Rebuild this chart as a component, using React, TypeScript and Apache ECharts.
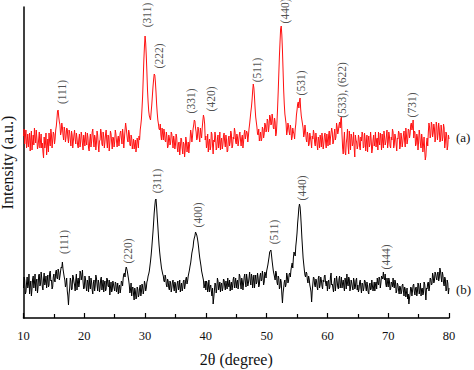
import React, { useEffect, useRef } from "react";
import * as echarts from "echarts";

// 2θ sampling grid: 10.0° to 80.0° in steps of 0.1°
const thetaStart = 10;
const thetaStep = 0.1;

// Pattern (a) — red: readings at 10.0, 10.2, ... 80.0 (one row per 5°)
const intensityA_even = [
  182,174,188,176,171,185,179,168,183,190,175,180,172,186,177,170,166,181,174,163,179,185,172,183,178,
  184,179,192,207,201,193,186,191,178,187,181,189,175,185,172,183,177,188,174,180,170,184,176,182,168,
  179,186,173,181,167,184,176,189,171,180,175,183,166,178,185,172,181,176,188,170,182,175,184,169,180,
  176,184,171,182,178,187,174,183,179,195,184,176,185,172,180,174,169,178,171,176,182,188,199,222,258,
  282,262,228,207,200,206,222,238,243,226,205,194,188,183,190,178,185,176,181,172,180,175,184,170,178,
  173,181,166,176,170,179,164,174,168,177,171,165,178,184,181,193,197,186,180,188,176,184,190,203,194,
  182,174,166,179,171,184,164,176,181,170,183,175,168,180,173,185,171,178,167,182,176,184,172,179,186,
  174,181,177,186,172,183,176,188,179,185,182,194,206,218,234,221,201,191,183,177,186,179,189,184,193,
  188,197,192,201,194,199,189,196,185,210,244,276,292,268,228,204,194,187,192,183,189,181,186,179,194,
  208,216,217,209,198,190,184,188,176,183,174,181,170,179,184,172,180,168,177,183,171,179,174,185,170,
  178,183,173,180,186,176,189,181,191,187,196,199,183,164,186,163,180,172,187,168,181,175,170,183,176,
  172,180,168,177,184,171,179,175,166,182,174,178,169,183,176,171,180,186,173,179,184,170,181,176,188,
  175,182,170,178,186,173,181,167,179,185,172,180,176,187,171,183,178,188,184,195,191,180,186,174,181,
  176,183,170,179,173,168,162,180,186,191,183,193,185,190,180,192,184,189,178,187,181,190,176,184,172,
  179,
];
// Pattern (a) — red: readings at 10.1, 10.3, ... 79.9
const intensityA_odd = [
  189,181,170,184,178,167,187,176,173,181,188,169,179,170,184,175,160,170,185,171,166,176,189,170,186,
  174,188,199,208,196,183,195,183,191,176,190,180,188,178,187,170,183,179,185,173,179,171,186,174,183,
  172,177,185,170,178,171,186,178,183,168,187,173,177,189,174,186,170,184,177,183,167,187,176,181,171,
  188,177,179,172,185,180,189,170,188,190,178,188,173,183,169,179,174,166,180,170,178,193,210,240,272,
  275,246,216,202,198,213,231,244,236,214,198,189,194,178,184,189,177,186,170,183,173,186,177,182,169,
  184,170,175,163,180,170,176,161,181,166,176,172,188,176,189,198,190,178,191,181,190,180,197,200,178,
  170,184,176,168,186,173,178,186,168,179,170,186,176,169,182,176,183,166,179,172,187,170,181,190,176,
  184,172,183,178,180,170,184,179,187,176,189,200,211,227,230,210,196,184,189,181,177,191,180,195,186,
  199,186,203,193,204,190,200,182,196,226,262,289,283,248,214,199,183,195,186,193,178,190,184,189,203,
  214,210,220,202,194,181,193,179,186,172,185,176,182,188,175,185,173,181,170,178,185,169,182,176,184,
  172,187,180,190,174,183,178,195,184,193,190,201,170,177,166,175,189,164,179,184,172,186,161,178,169,
  183,171,181,186,170,185,167,183,177,171,186,165,178,172,186,179,168,177,185,168,176,187,173,182,170,
  186,172,181,189,170,184,174,180,187,169,185,171,183,177,190,174,189,180,193,188,198,187,172,184,168,
  188,174,184,166,181,158,175,172,195,180,196,181,194,176,196,178,195,176,193,177,194,170,186,168,183,
];

// Pattern (b) — black: readings at 10.0, 10.2, ... 80.0
const intensityB_even = [
  30,38,26,41,33,24,37,29,42,35,27,39,31,44,34,40,28,45,36,30,43,33,47,38,31,
  44,36,48,39,46,42,51,56,45,38,34,27,13,30,37,29,41,33,38,28,40,35,45,42,36,
  30,39,27,35,42,29,36,24,38,32,40,27,35,30,41,33,26,37,29,39,31,23,36,28,34,
  27,35,30,24,33,29,36,40,45,48,49,42,33,28,22,31,18,27,20,29,23,33,26,31,28,
  34,30,38,44,52,63,78,95,112,119,101,82,66,55,47,42,36,40,31,37,28,35,30,38,27,
  34,29,37,31,26,35,30,38,33,41,37,45,52,60,68,77,82,86,80,71,60,52,44,38,33,
  28,35,30,26,33,22,14,27,34,29,37,31,26,35,30,38,28,33,40,31,27,36,32,41,35,
  30,38,33,42,29,37,34,44,31,39,35,46,33,41,37,30,43,36,40,33,45,38,42,36,44,
  47,53,61,67,63,52,44,38,45,33,40,31,36,15,30,38,34,42,37,45,48,55,60,64,72,
  85,102,114,103,80,60,48,41,45,35,39,30,16,34,40,31,37,28,42,33,38,29,36,43,32,
  27,38,31,45,34,26,40,33,37,29,42,35,30,38,27,36,44,32,39,30,35,28,37,31,40,
  33,29,38,25,34,30,37,27,32,24,35,29,38,31,27,36,40,33,39,35,42,46,38,34,40,
  31,37,29,35,40,30,36,27,33,24,31,26,34,22,29,25,19,14,24,30,27,34,23,31,26,
  33,28,22,30,25,34,18,29,36,31,39,34,42,37,44,38,46,40,47,36,43,32,39,28,35,
  30,
];
// Pattern (b) — black: readings at 10.1, 10.3, ... 79.9
const intensityB_odd = [
  41,24,35,30,44,31,22,39,30,44,36,25,43,32,46,31,39,33,42,37,31,45,37,29,41,
  37,46,40,49,38,47,50,49,41,31,40,22,24,40,28,43,36,27,44,37,31,47,38,48,29,
  42,31,38,26,33,40,28,35,27,43,33,38,26,39,28,38,34,27,40,32,38,30,26,37,30,
  36,26,35,31,25,37,32,44,41,51,46,38,25,35,30,24,30,19,31,21,30,22,34,24,37,
  27,36,42,47,57,70,86,105,118,111,92,73,60,50,44,37,43,33,39,30,37,26,36,31,36,
  25,35,28,38,31,27,37,29,39,34,42,48,55,65,71,80,86,83,76,65,56,47,41,30,37,
  37,26,38,31,27,30,20,35,25,40,28,36,33,27,39,32,37,29,34,38,33,28,39,30,40,
  36,29,44,34,40,28,41,36,44,32,40,37,44,30,43,38,34,45,31,42,37,47,33,46,40,
  50,57,66,68,57,47,41,47,36,42,29,39,24,25,36,31,45,35,44,41,52,50,66,62,78,
  95,110,111,92,70,54,43,46,38,42,33,26,27,41,33,39,31,40,30,41,32,38,42,35,37,
  36,29,41,33,30,36,27,42,31,39,30,41,35,31,40,29,35,41,27,38,31,40,29,38,28,
  26,36,30,35,27,38,31,36,26,33,28,38,27,36,33,29,35,41,30,42,39,40,44,31,35,
  40,28,36,31,33,38,25,35,28,32,24,33,27,31,21,30,24,20,31,22,33,26,30,22,35,
  24,35,29,23,36,27,30,35,27,40,33,45,35,46,40,45,37,50,41,46,35,41,27,38,24,
];

// Miller-index annotations: [2θ, intensity, label]
const labelsA: [number, number, string][] = [
  [16.28, 226, "(111)"],
  [30.26, 303, "(311)"],
  [32.33, 262, "(222)"],
  [37.55, 217, "(331)"],
  [40.84, 219, "(420)"],
  [48.36, 248, "(511)"],
  [53.01, 307, "(440)"],
  [55.59, 235, "(531)"],
  [62.33, 228, "(533), (622)"],
  [73.95, 213, "(731)"],
];
const labelsB: [number, number, string][] = [
  [16.71, 76, "(111)"],
  [27.24, 67, "(220)"],
  [31.91, 137, "(311)"],
  [38.7, 103, "(400)"],
  [51.2, 86, "(511)"],
  [55.76, 130, "(440)"],
  [69.57, 61, "(444)"],
];

const xTicks = { min: 10, max: 80, interval: 10 };
const SERIF = "Liberation Serif, Times New Roman, serif";

function merge(even: number[], odd: number[]) {
  const out: number[][] = [];
  even.forEach((v, i) => {
    out.push([+(thetaStart + 2 * i * thetaStep).toFixed(1), v]);
    if (i < odd.length) out.push([+(thetaStart + (2 * i + 1) * thetaStep).toFixed(1), odd[i]]);
  });
  return out;
}

export default function App() {
  const ref = useRef<HTMLDivElement>(null);
  useEffect(() => {
    document.body.style.margin = "0";
    const chart = echarts.init(ref.current!, null, { renderer: "svg" });
    const labelSeries = (items: [number, number, string][], name: string) => ({
      type: "scatter",
      name,
      symbolSize: 0,
      silent: true,
      clip: false,
      data: items.map(([x, y, t]) => ({ value: [x, y], name: t })),
      label: {
        show: true,
        position: "inside",
        rotate: 90,
        formatter: (p: any) => p.name,
        color: "#222",
        fontFamily: SERIF,
        fontSize: 11.5,
        align: "center",
        verticalAlign: "middle",
      },
    });
    chart.setOption({
      animation: false,
      grid: { left: 23.5, right: 25, top: 7, bottom: 52, containLabel: false, outerBoundsMode: "none" },
      xAxis: {
        type: "value",
        min: xTicks.min,
        max: xTicks.max,
        interval: xTicks.interval,
        name: "2θ (degree)",
        nameLocation: "middle",
        nameGap: 33,
        nameTextStyle: { fontFamily: SERIF, fontSize: 16, color: "#111" },
        axisLine: { show: true, onZero: false, lineStyle: { color: "#000", width: 1.5 } },
        axisTick: { show: true, inside: true, length: 5, lineStyle: { color: "#000", width: 1.2 } },
        minorTick: { show: true, splitNumber: 2, length: 4, lineStyle: { color: "#000", width: 1.2 } },
        axisLabel: { margin: 11, fontFamily: SERIF, fontSize: 12.5, color: "#111" },
        splitLine: { show: false },
      },
      yAxis: {
        type: "value",
        min: 0,
        max: 311,
        name: "Intensity (a.u.)",
        nameLocation: "middle",
        nameGap: 8,
        nameTextStyle: { fontFamily: SERIF, fontSize: 16, color: "#111" },
        axisLine: { show: true, lineStyle: { color: "#000", width: 1.5 } },
        axisTick: { show: false },
        axisLabel: { show: false },
        splitLine: { show: false },
      },
      series: [
        {
          type: "line",
          name: "(a)",
          data: merge(intensityA_even, intensityA_odd),
          showSymbol: false,
          lineStyle: { color: "#ff1010", width: 1 },
          silent: true,
        },
        {
          type: "line",
          name: "(b)",
          data: merge(intensityB_even, intensityB_odd),
          showSymbol: false,
          lineStyle: { color: "#000", width: 1 },
          silent: true,
        },
        labelSeries(labelsA, "labelsA"),
        labelSeries(labelsB, "labelsB"),
      ],
      graphic: [
        { type: "text", x: 456, y: 137, style: { text: "(a)", font: `13px ${SERIF}`, fill: "#111", verticalAlign: "middle" } },
        { type: "text", x: 456, y: 289, style: { text: "(b)", font: `13px ${SERIF}`, fill: "#111", verticalAlign: "middle" } },
      ],
    });
    return () => chart.dispose();
  }, []);
  return (
    <div
      ref={ref}
      style={{ position: "absolute", left: 0, top: 0, width: 474, height: 370, background: "#fff" }}
    />
  );
}
